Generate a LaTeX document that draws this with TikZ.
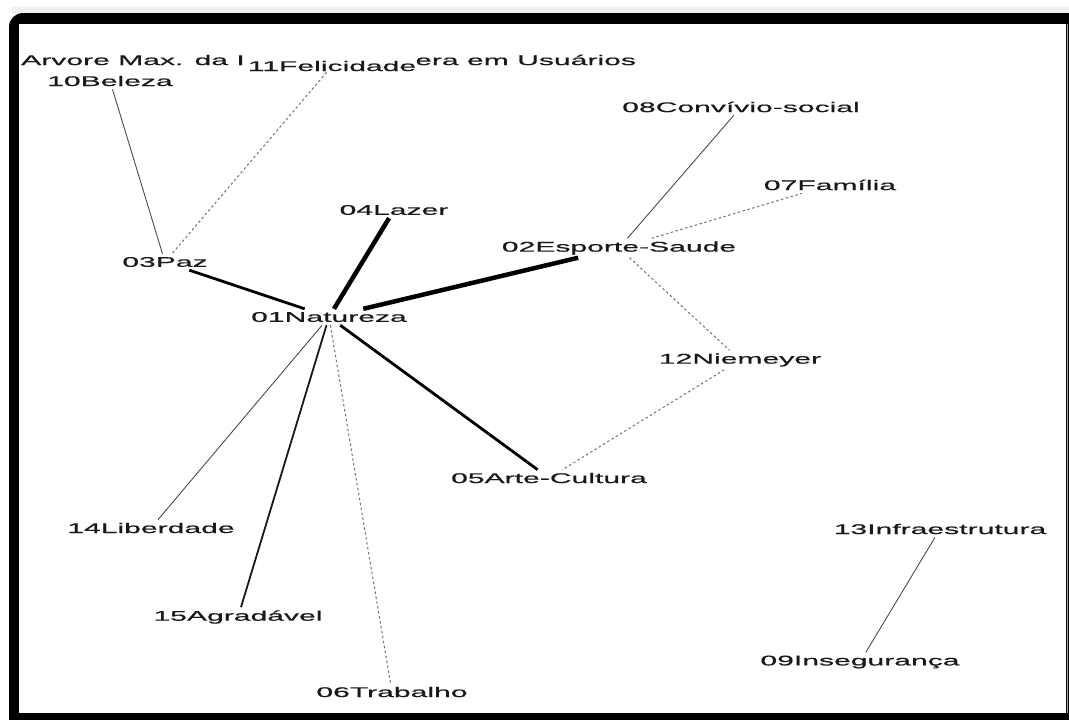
\documentclass[tikz,border=0pt]{standalone}
\usepackage{fontspec}
\newfontfamily\lbfont[FakeStretch=2.15,FakeBold=0.6]{Liberation Sans}
\tikzset{
  lbl/.style={font=\lbfont\fontsize{14}{16}\selectfont, inner sep=3pt, text=black!90},
  ethin/.style={line width=0.9pt, draw=black!70},
  emed/.style={line width=1.8pt, draw=black!90},
  ethick/.style={line width=2.8pt, draw=black},
  evthick/.style={line width=4.5pt, draw=black},
  edash/.style={line width=1pt, draw=black!55, dash pattern=on 2.5pt off 2.5pt},
}
\begin{document}
\begin{tikzpicture}[x=1pt,y=-1pt]
\useasboundingbox (0,0) rectangle (1069,720);
% frame
\fill[white] (0,0) rectangle (1069,720);
\fill[black!6] (12,7) rectangle (1069,13);
\fill[black, rounded corners=14pt] (9,13) rectangle (1090,740);
\fill[white] (19,24) rectangle (1066,713);
\draw[black!35, line width=1pt] (1067,24) -- (1067,713);
% title pieces
\node[lbl, anchor=west] (t1) at (18,60) {Arvore Max. da I};
\node[lbl, anchor=west] (t2) at (412,60) {era em Usuários};
% nodes
\node[lbl, fill=white, inner sep=1pt] (n11) at (332,66) {11Felicidade};
\node[lbl] (n10) at (110,81) {10Beleza};
\node[lbl] (n03) at (165,262) {03Paz};
\node[lbl] (n04) at (394,210) {04Lazer};
\node[lbl] (n01) at (329,317) {01Natureza};
\node[lbl] (n02) at (619,248) {02Esporte-Saude};
\node[lbl] (n08) at (741,107) {08Convívio-social};
\node[lbl] (n07) at (830,185) {07Família};
\node[lbl] (n12) at (740,360) {12Niemeyer};
\node[lbl] (n05) at (549,478) {05Arte-Cultura};
\node[lbl] (n14) at (151,528) {14Liberdade};
\node[lbl] (n15) at (238,617) {15Agradável};
\node[lbl] (n06) at (392,692) {06Trabalho};
\node[lbl] (n13) at (940,529) {13Infraestrutura};
\node[lbl] (n09) at (860,662) {09Insegurança};
% edges
\draw[ethin] (n10) -- (n03);
\draw[edash] (n11) -- (n03);
\draw[ethick] (n03) -- (n01);
\draw[evthick] (n04) -- (n01);
\draw[evthick] (n01) -- (n02);
\draw[ethin] (n02) -- (n08);
\draw[edash] (n02) -- (n07);
\draw[edash] (n02) -- (n12);
\draw[edash] (n12) -- (n05);
\draw[ethick] (n01) -- (n05);
\draw[ethin] (n01) -- (n14);
\draw[emed] (n01) -- (n15);
\draw[edash] (n01) -- (n06);
\draw[ethin] (n13) -- (n09);
\end{tikzpicture}
\end{document}
